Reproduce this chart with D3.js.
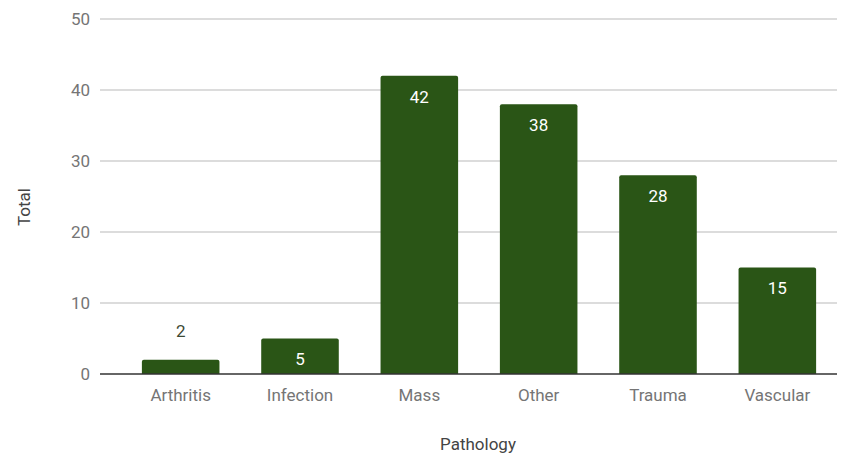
<!DOCTYPE html>
<html><head><meta charset="utf-8">
<script src="https://cdn.jsdelivr.net/npm/d3@7"></script>
<style>body{margin:0;background:#fff;font-family:Roboto,"Noto Sans",sans-serif;}</style>
</head><body><svg id="c" width="848" height="454"></svg>
<script>
const categories = ["Arthritis","Infection","Mass","Other","Trauma","Vascular"];
const totals = [2,5,42,38,28,15];
const yTicks = [0,10,20,30,40,50];

const svg = d3.select("#c");
const FS = "17px";
const x = d3.scaleBand().domain(categories).range([121,837]).paddingInner(0.35).paddingOuter(0.175);
const y = d3.scaleLinear().domain([0,50]).range([374,19]);

// gridlines
svg.append("g").selectAll("line").data(yTicks.filter(d=>d>0)).join("line")
  .attr("x1",100).attr("x2",837).attr("y1",d=>y(d)).attr("y2",d=>y(d))
  .attr("stroke","#d0d0d0").attr("stroke-width",1.3);

// y axis labels
const yAxis = d3.axisLeft(y).tickValues(yTicks).tickSize(0).tickPadding(0);
const gy = svg.append("g").attr("transform","translate(90,0)").call(yAxis);
gy.select(".domain").remove();
gy.selectAll("text").attr("fill","#757575").style("font-size",FS).style("font-family","Roboto");

// bars with rounded top
const r = 2;
svg.append("g").selectAll("path").data(totals).join("path")
  .attr("fill","#2a5516")
  .attr("d",(d,i)=>{
    const x0 = x(categories[i]), w = x.bandwidth(), y0 = y(d), yb = y(0);
    return `M${x0},${yb}V${y0+r}Q${x0},${y0} ${x0+r},${y0}H${x0+w-r}Q${x0+w},${y0} ${x0+w},${y0+r}V${yb}Z`;
  });

// baseline
svg.append("line").attr("x1",100).attr("x2",837).attr("y1",y(0)).attr("y2",y(0))
  .attr("stroke","#333").attr("stroke-width",1.3);

// x axis labels
const xAxis = d3.axisBottom(x).tickSize(0).tickPadding(0);
const gx = svg.append("g").attr("transform",`translate(0,${y(0)+15})`).call(xAxis);
gx.select(".domain").remove();
gx.selectAll("text").attr("fill","#757575").style("font-size",FS).style("font-family","Roboto");

// value labels
svg.append("g").selectAll("text").data(totals).join("text")
  .attr("x",(d,i)=>x(categories[i])+x.bandwidth()/2)
  .attr("y",d=>{ const h = y(0)-y(d); return h > 30 ? y(d)+21 : y(d)-29; })
  .attr("dy","0.35em")
  .attr("text-anchor","middle")
  .attr("fill",d=> (y(0)-y(d)) > 30 ? "#ffffff" : "#3d4a35")
  .style("font-size",FS).style("font-family","Roboto")
  .text(d=>d);

// axis titles
svg.append("text").attr("x",478).attr("y",444).attr("dy","0.35em").attr("text-anchor","middle")
  .attr("fill","#444").style("font-size",FS).style("font-family","Roboto").text("Pathology");
svg.append("text").attr("transform","translate(24,207) rotate(-90)").attr("dy","0.35em").attr("text-anchor","middle")
  .attr("fill","#444").style("font-size",FS).style("font-family","Roboto").text("Total");
</script></body></html>
